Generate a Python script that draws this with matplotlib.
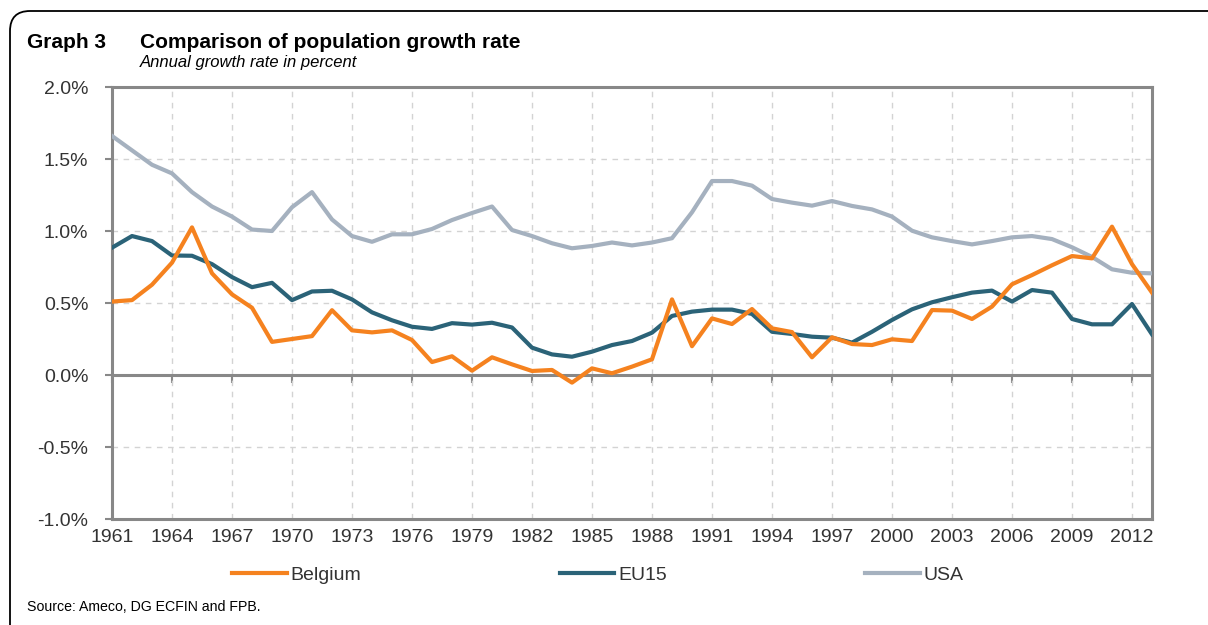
import numpy as np
import matplotlib
matplotlib.use('Agg')
import matplotlib.pyplot as plt
from matplotlib.patches import FancyBboxPatch
from matplotlib.ticker import FuncFormatter, MultipleLocator

# data (annual growth rate, %)
years = list(range(1961, 2014))
belgium = [0.51, 0.52, 0.627, 0.78, 1.025, 0.706, 0.56, 0.467, 0.23, 0.25,
           0.27, 0.45, 0.31, 0.296, 0.31, 0.243, 0.09, 0.13, 0.03, 0.123,
           0.074, 0.028, 0.035, -0.053, 0.046, 0.012, 0.058, 0.109, 0.525, 0.20,
           0.393, 0.354, 0.458, 0.324, 0.298, 0.123, 0.262, 0.215, 0.208, 0.248,
           0.236, 0.451, 0.447, 0.389, 0.475, 0.63, 0.694, 0.762, 0.826, 0.81,
           1.03, 0.77, 0.572]
eu15 = [0.884, 0.965, 0.93, 0.83, 0.828, 0.77, 0.68, 0.61, 0.64, 0.52,
        0.58, 0.585, 0.525, 0.435, 0.38, 0.335, 0.32, 0.36, 0.35, 0.363,
        0.33, 0.19, 0.143, 0.127, 0.162, 0.208, 0.236, 0.294, 0.41, 0.44,
        0.454, 0.454, 0.424, 0.30, 0.285, 0.266, 0.259, 0.225, 0.30, 0.382,
        0.456, 0.505, 0.54, 0.572, 0.586, 0.51, 0.59, 0.572, 0.389, 0.352,
        0.352, 0.493, 0.282]
usa = [1.66, 1.56, 1.46, 1.40, 1.27, 1.17, 1.10, 1.01, 1.00, 1.165,
       1.27, 1.08, 0.965, 0.925, 0.977, 0.977, 1.014, 1.076, 1.125, 1.17,
       1.007, 0.965, 0.915, 0.88, 0.896, 0.92, 0.90, 0.92, 0.95, 1.13,
       1.347, 1.347, 1.315, 1.222, 1.197, 1.176, 1.208, 1.174, 1.15, 1.10,
       1.002, 0.956, 0.93, 0.907, 0.93, 0.956, 0.965, 0.944, 0.887, 0.82,
       0.734, 0.71, 0.706]
x_ticks = list(range(1961, 2013, 3))

plt.rcParams['font.family'] = ['Liberation Sans', 'DejaVu Sans']
grey = '#888888'
txt = '#333333'

fig = plt.figure(figsize=(12.08, 6.25), dpi=100)

# cadre arrondi
frame = FancyBboxPatch((10, -40), 1240, 625 - 11 + 40,
                       boxstyle='round,pad=0,rounding_size=20',
                       transform=None, fill=False, edgecolor='black', linewidth=1.3)
fig.add_artist(frame)

ax = fig.add_axes([112 / 1208, 1 - 519 / 625, 1040 / 1208, 432 / 625])

ax.plot(years, usa, color='#A5B1BF', lw=3, label='USA', zorder=3)
ax.plot(years, eu15, color='#2B6378', lw=3, label='EU15', zorder=4)
ax.plot(years, belgium, color='#F5821F', lw=3, label='Belgium', zorder=5)

ax.set_xlim(1961, 2013)
ax.set_ylim(-1.0, 2.0)
ax.yaxis.set_major_locator(MultipleLocator(0.5))
ax.yaxis.set_major_formatter(FuncFormatter(lambda v, p: f'{v:.1f}%'))
ax.set_xticks(x_ticks)

ax.grid(True, color='#D3D3D3', linestyle=(0, (4, 4)), linewidth=1)
ax.set_axisbelow(True)

for s in ax.spines.values():
    s.set_color(grey)
    s.set_linewidth(2.2)

ax.tick_params(axis='x', length=0, pad=7, labelsize=14, labelcolor=txt)
ax.tick_params(axis='y', length=5, width=1.5, color=grey, pad=12,
               labelsize=14, labelcolor=txt)

# ligne du zéro avec graduations
ax.axhline(0, color=grey, lw=2.2, zorder=2)
zero_ax = ax.secondary_xaxis(1 / 3)
zero_ax.set_xticks(x_ticks)
zero_ax.tick_params(axis='x', direction='out', length=6, width=1.5,
                    color=grey, labelbottom=False, labeltop=False)
zero_ax.spines['bottom'].set_visible(False)
zero_ax.spines['top'].set_visible(False)

# titres
fig.text(27 / 1208, 1 - 48 / 625, 'Graph 3', fontsize=15, fontweight='bold',
         va='baseline', ha='left', color='black')
fig.text(140 / 1208, 1 - 48 / 625, 'Comparison of population growth rate',
         fontsize=15, fontweight='bold', va='baseline', ha='left', color='black')
fig.text(140 / 1208, 1 - 63 / 625, 'Annual growth rate in percent',
         fontsize=12, style='italic', va='center', ha='left', color='black')
fig.text(27 / 1208, 1 - 607 / 625, 'Source: Ameco, DG ECFIN and FPB.',
         fontsize=10.2, va='center', ha='left', color='black')

handles, labels = ax.get_legend_handles_labels()
order = [2, 1, 0]
fig.legend([handles[i] for i in order], [labels[i] for i in order],
           loc='center', bbox_to_anchor=(598 / 1208, 1 - 575 / 625), ncol=3,
           frameon=False, fontsize=14, handlelength=2.8, handletextpad=0.2,
           columnspacing=10.2, labelcolor=txt)

fig.savefig('out.png', dpi=100)
